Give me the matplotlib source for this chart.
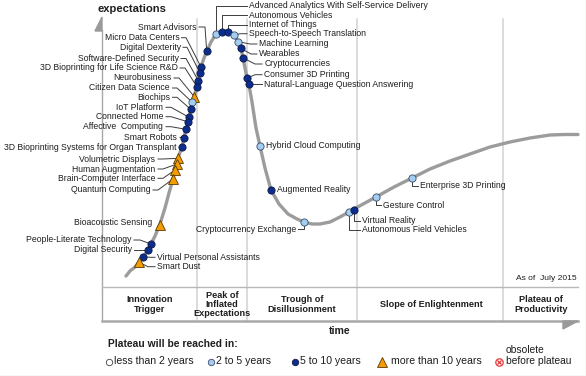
import matplotlib
matplotlib.use("Agg")
import matplotlib.pyplot as plt
from matplotlib.patches import Polygon

plt.rcParams['font.family'] = ['Liberation Sans', 'DejaVu Sans']

# ---------------- data ----------------
# hype curve shape (pixel coordinates)
curve_x = [126, 130, 135, 139, 143, 148, 151, 155, 160, 165, 169, 173, 175, 177, 178, 182, 184, 186,
           188, 189, 191, 192, 194, 197, 198, 200, 201, 204, 207, 211, 216, 219, 222, 228, 234, 238,
           241, 243, 245, 247, 249, 252, 256, 260, 265, 271, 279, 288, 297, 304, 312, 320, 330, 340,
           349, 354, 365, 376, 394, 412, 430, 450, 470, 490, 510, 530, 550, 565, 578]
curve_y = [276, 271, 267, 262, 257, 250, 244, 236, 224, 208, 193, 179, 170, 164, 158, 147, 138, 129,
           122, 117, 109, 102, 97, 87, 81, 73, 67, 58, 51, 42, 34, 32, 31, 31.5, 35, 41,
           48, 58, 68, 78, 85, 102, 128, 146, 168, 190, 204, 214, 219, 222, 224, 224, 222, 217,
           212, 209, 203, 197, 187, 178, 169, 161, 154, 147, 142, 138, 135, 134.5, 134.5]

tech_names = [
    "Smart Advisors", "Micro Data Centers", "Digital Dexterity", "Software-Defined Security",
    "3D Bioprinting for Life Science R&D", "Neurobusiness", "Citizen Data Science", "Biochips",
    "IoT Platform", "Connected Home", "Affective  Computing", "Smart Robots",
    "3D Bioprinting Systems for Organ Transplant", "Volumetric Displays", "Human Augmentation",
    "Brain-Computer Interface", "Quantum Computing", "Bioacoustic Sensing",
    "People-Literate Technology", "Digital Security", "Virtual Personal Assistants", "Smart Dust",
    "Advanced Analytics With Self-Service Delivery", "Autonomous Vehicles", "Internet of Things",
    "Speech-to-Speech Translation", "Machine Learning", "Wearables", "Cryptocurrencies",
    "Consumer 3D Printing", "Natural-Language Question Answering", "Hybrid Cloud Computing",
    "Augmented Reality", "Cryptocurrency Exchange", "Autonomous Field Vehicles", "Virtual Reality",
    "Gesture Control", "Enterprise 3D Printing",
]
tech_x = [206.7, 201, 200, 198.3, 197.3, 194.3, 192.3, 190.7, 189, 187.7, 186, 184, 182,
          178.3, 177, 175, 173, 160, 151, 148, 143.3, 139,
          215.7, 221.7, 228.3, 234.3, 238.3, 240.7, 243.3, 246.7, 249,
          260, 271, 304.3, 349, 354.3, 376, 412.3]
tech_y = [51, 67, 73, 80.7, 87.3, 96.7, 102.3, 109.3, 117.3, 121.7, 129.3, 138.3, 147.3,
          158.3, 164, 170, 179, 224.7, 244, 250, 256.7, 262.3,
          34, 32.3, 32.3, 35.3, 41.7, 48.3, 58, 78.3, 84.3,
          145.7, 190.3, 222, 212, 209.7, 197, 178.3]
# D = 5 to 10 years, L = 2 to 5 years, T = more than 10 years
tech_status = ["D", "D", "D", "D", "D", "T", "L", "D", "D", "D", "D", "D", "D",
               "T", "T", "T", "T", "T", "D", "D", "D", "T",
               "L", "D", "D", "L", "L", "D", "D", "D", "D",
               "L", "D", "L", "L", "D", "L", "L"]

phase_names = ["Innovation\nTrigger", "Peak of\nInflated\nExpectations", "Trough of\nDisillusionment",
               "Slope of Enlightenment", "Plateau of\nProductivity"]
legend_names = ["less than 2 years", "2 to 5 years", "5 to 10 years", "more than 10 years"]

# ---------------- layout ----------------
# label anchor (x, y, ha) and leader path for each technology
label_layout = [
    (196.7, 27, 'right', [(199, 27), (205, 27), (206.7, 51)]),
    (179.3, 37.7, 'right', [(181.5, 37.7), (186, 37.7), (201, 67)]),
    (180.7, 47.3, 'right', [(183, 47.3), (187, 47.3), (200, 73)]),
    (178.7, 58.5, 'right', [(181, 58.5), (186, 58.5), (198.3, 80.7)]),
    (177.7, 68, 'right', [(180, 68), (185, 68), (197.3, 87.3)]),
    (171.7, 78, 'right', [(174, 78), (179, 78), (194.3, 96.7)]),
    (170, 88, 'right', [(172.5, 88), (177, 88), (192.3, 102.3)]),
    (170, 97.3, 'right', [(172.5, 97.3), (177, 97.3), (190.7, 109.3)]),
    (163.3, 107.3, 'right', [(166, 107.3), (171, 107.3), (189, 117.3)]),
    (163.3, 116.7, 'right', [(166, 116.7), (171, 116.7), (187.7, 121.7)]),
    (163.3, 126.7, 'right', [(166, 126.7), (171, 126.7), (186, 129.3)]),
    (177.3, 137.3, 'right', [(180, 137.3), (184, 138.3)]),
    (176, 147.3, 'right', [(178.5, 147.3), (182, 147.3)]),
    (155, 159, 'right', [(158, 159), (163, 159), (178.3, 158.3)]),
    (155, 169, 'right', [(158, 169), (163, 169), (177, 164)]),
    (155, 178.3, 'right', [(158, 178.3), (163, 178.3), (175, 170)]),
    (150.7, 190, 'right', [(153, 190), (158, 190), (173, 179)]),
    (152.7, 222.3, 'right', []),
    (131.7, 240, 'right', [(134, 240), (140, 240), (151, 244)]),
    (131.7, 250, 'right', [(134, 250), (148, 250)]),
    (157.3, 257.3, 'left', [(143.3, 256.7), (150, 257.3), (155, 257.3)]),
    (157.3, 266.7, 'left', [(139, 262.3), (148, 266.7), (155, 266.7)]),
    (249, 5.7, 'left', [(215.7, 34), (215.7, 5.7), (247, 5.7)]),
    (249, 15, 'left', [(221.7, 32.3), (221.7, 15), (247, 15)]),
    (249, 24.7, 'left', [(228.3, 32.3), (228.3, 24.7), (247, 24.7)]),
    (249, 33.7, 'left', [(234.3, 35.3), (240, 33.7), (247, 33.7)]),
    (259.3, 44, 'left', [(238.3, 41.7), (250, 44), (257, 44)]),
    (259.3, 54, 'left', [(240.7, 48.3), (251, 54), (257, 54)]),
    (264.3, 64, 'left', [(243.3, 58), (255, 64), (262, 64)]),
    (264.3, 74.7, 'left', [(246.7, 78.3), (255, 74.7), (262, 74.7)]),
    (264.3, 84.3, 'left', [(249, 84.3), (262, 84.3)]),
    (266, 145.3, 'left', []),
    (276.7, 190, 'left', []),
    (296, 229.3, 'right', [(304.3, 222), (304.3, 229.3), (298, 229.3)]),
    (361.7, 229.7, 'left', [(349, 212), (349, 229.7), (359.5, 229.7)]),
    (361.7, 220.7, 'left', [(354.3, 209.7), (354.3, 220.7), (359.5, 220.7)]),
    (383.3, 205, 'left', [(376, 197), (376, 205), (381, 205)]),
    (420, 186, 'left', [(412.3, 178.3), (412.3, 186), (418, 186)]),
]

DARK = "#0b2d8e"
LIGHT = "#a4cdf2"
ORANGE = "#f59c00"
TXT = "#1e1e1e"

fig = plt.figure(figsize=(5.86, 3.76), dpi=100)
ax = fig.add_axes([0, 0, 1, 1])
ax.set_xlim(0, 586)
ax.set_ylim(376, 0)
ax.axis('off')

# phase separators
for sx in [197, 247, 357, 503]:
    ax.plot([sx, sx], [19, 321], color="#d2d2d2", lw=1.1, zorder=1)

# axes
ax.plot([102, 102], [30, 321], color="#a8a8a8", lw=1.0, zorder=2)
ax.add_patch(Polygon([(95, 31), (102, 17), (102, 31)], closed=True, color="#9a9a9a", zorder=2))
ax.plot([102, 578], [287, 287], color="#b8b8b8", lw=1.0, zorder=2)
ax.plot([102, 578], [321, 321], color="#a8a8a8", lw=1.8, zorder=2)
ax.add_patch(Polygon([(563, 321), (578, 321), (563, 329)], closed=True, color="#9a9a9a", zorder=2))

ax.text(97, 9.5, "expectations", fontsize=8.1, fontweight='bold', ha='left', va='center', color=TXT)
ax.text(340, 331, "time", fontsize=7.6, fontweight='bold', ha='center', va='center', color=TXT)
ax.text(577, 278, "As of  July 2015", fontsize=6.1, ha='right', va='center', color=TXT)

phase_x = [150, 222, 302, 431, 541]
for name, px in zip(phase_names, phase_x):
    ax.text(px, 304.5, name, fontsize=6.6, fontweight='bold', ha='center', va='center',
            color=TXT, linespacing=1.05)

# hype curve
ax.plot(curve_x, curve_y, color="#9c9c9c", lw=2.4, solid_capstyle='round', zorder=3)

# labels + leaders
for name, (lx, ly, ha, path) in zip(tech_names, label_layout):
    if path:
        xs = [p[0] for p in path]
        ys = [p[1] for p in path]
        ax.plot(xs, ys, color="#3c3c3c", lw=0.7, zorder=4)
    ax.text(lx, ly, name, fontsize=6.2, ha=ha, va='center', color=TXT, zorder=6)

# markers
for x, y, s in zip(tech_x, tech_y, tech_status):
    if s == "T":
        ax.plot(x, y, marker='^', ms=6.8, mfc=ORANGE, mec="#5a3a00", mew=0.6, zorder=5)
    elif s == "L":
        ax.plot(x, y, marker='o', ms=5.2, mfc=LIGHT, mec="#3a4a6a", mew=0.6, zorder=5)
    else:
        ax.plot(x, y, marker='o', ms=5.2, mfc=DARK, mec="#101840", mew=0.6, zorder=5)

# legend
ax.text(108, 344, "Plateau will be reached in:", fontsize=7.4, fontweight='bold',
        ha='left', va='center', color=TXT)
leg_mx = [108.5, 210.5, 294.5, 382]
leg_tx = [114, 216.5, 300.5, 391]
leg_style = [("o", "white", "#404040"), ("o", LIGHT, "#3a4a6a"), ("o", DARK, "#101840"),
             ("^", ORANGE, "#5a3a00")]
for name, mx, tx, (mk, fc, ec) in zip(legend_names, leg_mx, leg_tx, leg_style):
    ax.plot(mx, 361.5, marker=mk, ms=4.6 if mk == "o" else 6.5, mfc=fc, mec=ec, mew=0.6)
    ax.text(tx, 361.5, name, fontsize=7.6, ha='left', va='center', color=TXT)
ax.plot(498.5, 362, marker='o', ms=5.3, mfc="white", mec="#e03a3a", mew=0.9)
ax.plot(498.5, 362, marker='x', ms=3.0, mec="#e03a3a", mew=0.9)
ax.text(505.5, 350, "obsolete", fontsize=7.4, ha='left', va='center', color=TXT)
ax.text(505.5, 361.5, "before plateau", fontsize=7.4, ha='left', va='center', color=TXT)

# faint frame on right/bottom edge
ax.plot([0, 585.5], [375.5, 375.5], color="#cfe6cf", lw=1.0)
ax.plot([585.5, 585.5], [0, 375.5], color="#cfe6cf", lw=1.0)

fig.savefig("out.png", dpi=100)
